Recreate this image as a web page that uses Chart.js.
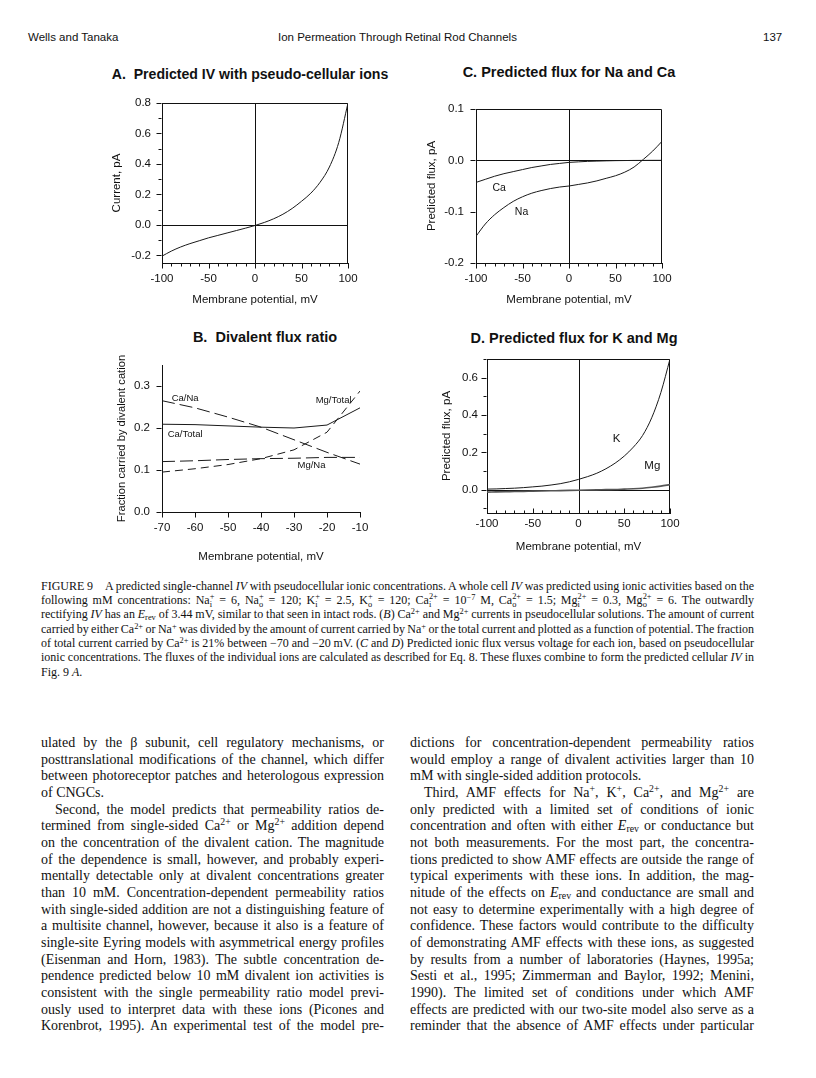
<!DOCTYPE html>
<html>
<head>
<meta charset="utf-8">
<script src="https://cdn.jsdelivr.net/npm/chart.js@4.4.1/dist/chart.umd.min.js"></script>
<style>
html, body { margin:0; padding:0; background:#fff; }
#page { position:relative; width:816px; height:1078px; overflow:hidden; color:#111; }
.hd { position:absolute; top:30px; font:11.5px/14px "Liberation Sans", Arial, sans-serif; white-space:nowrap; }
.ct { position:absolute; font:bold 14.5px/17px "Liberation Sans", Arial, sans-serif; white-space:nowrap; transform:translateX(-50%); }
canvas { position:absolute; }
.col { position:absolute; font-family:"Liberation Serif", "Times New Roman", serif; }
.col div { white-space:nowrap; }
#cap { left:41px; top:578.5px; width:713px; font-size:12px; line-height:14.4px; }
#cap div { height:14.4px; }
#colL { left:41px; top:735px; width:343px; font-size:14px; line-height:16.67px; }
#colR { left:410px; top:735px; width:344px; font-size:14px; line-height:16.67px; }
#colL div, #colR div { height:16.67px; }
.in { margin-left:14px; }
sup, sub { font-size:0.7em; line-height:0; }
sup { vertical-align:0.5em; }
sub { vertical-align:-0.25em; }
.ss { display:inline-block; vertical-align:-0.32em; font-size:0.7em; line-height:0.9em; }
.ss > span { display:block; }
</style>
</head>
<body>
<div id="page">
  <div class="hd" style="left:28px">Wells and Tanaka</div>
  <div class="hd" style="left:278px">Ion Permeation Through Retinal Rod Channels</div>
  <div class="hd" style="left:763px">137</div>

  <div class="ct" style="left:250px; top:66px; font-size:14.1px">A.&nbsp; Predicted IV with pseudo-cellular ions</div>
  <div class="ct" style="left:569px; top:64px">C. Predicted flux for Na and Ca</div>
  <div class="ct" style="left:265px; top:329px">B.&nbsp; Divalent flux ratio</div>
  <div class="ct" style="left:574px; top:330px">D. Predicted flux for K and Mg</div>

  <canvas id="graficaA" width="262" height="220" style="left:100px; top:95px"></canvas>
  <canvas id="graficaC" width="272" height="215" style="left:400px; top:100px"></canvas>
  <canvas id="graficaB" width="270" height="215" style="left:100px; top:355px"></canvas>
  <canvas id="graficaD" width="280" height="220" style="left:400px; top:350px"></canvas>

  <div class="col" id="cap">
    <div class="j"><span>FIGURE 9<span style="display:inline-block;width:12px"></span>A predicted single-channel <i>IV</i> with pseudocellular ionic concentrations. A whole cell <i>IV</i> was predicted using ionic activities based on the</span></div>
    <div class="j"><span>following mM concentrations: Na<span class="ss"><span>+</span><span>i</span></span> = 6, Na<span class="ss"><span>+</span><span>o</span></span> = 120; K<span class="ss"><span>+</span><span>i</span></span> = 2.5, K<span class="ss"><span>+</span><span>o</span></span> = 120; Ca<span class="ss"><span>2+</span><span>i</span></span> = 10<sup>−7</sup> M, Ca<span class="ss"><span>2+</span><span>o</span></span> = 1.5; Mg<span class="ss"><span>2+</span><span>i</span></span> = 0.3, Mg<span class="ss"><span>2+</span><span>o</span></span> = 6. The outwardly</span></div>
    <div class="j"><span>rectifying <i>IV</i> has an <i>E</i><sub>rev</sub> of 3.44 mV, similar to that seen in intact rods. (<i>B</i>) Ca<sup>2+</sup> and Mg<sup>2+</sup> currents in pseudocellular solutions. The amount of current</span></div>
    <div class="j"><span>carried by either Ca<sup>2+</sup> or Na<sup>+</sup> was divided by the amount of current carried by Na<sup>+</sup> or the total current and plotted as a function of potential. The fraction</span></div>
    <div class="j"><span>of total current carried by Ca<sup>2+</sup> is 21% between −70 and −20 mV. (<i>C</i> and <i>D</i>) Predicted ionic flux versus voltage for each ion, based on pseudocellular</span></div>
    <div class="j"><span>ionic concentrations. The fluxes of the individual ions are calculated as described for Eq. 8. These fluxes combine to form the predicted cellular <i>IV</i> in</span></div>
    <div><span>Fig. 9 <i>A</i>.</span></div>
  </div>

  <div class="col" id="colL">
    <div class="j"><span>ulated by the β subunit, cell regulatory mechanisms, or</span></div>
    <div class="j"><span>posttranslational modifications of the channel, which differ</span></div>
    <div class="j"><span>between photoreceptor patches and heterologous expression</span></div>
    <div><span>of CNGCs.</span></div>
    <div class="j"><span class="in">Second, the model predicts that permeability ratios de-</span></div>
    <div class="j"><span>termined from single-sided Ca<sup>2+</sup> or Mg<sup>2+</sup> addition depend</span></div>
    <div class="j"><span>on the concentration of the divalent cation. The magnitude</span></div>
    <div class="j"><span>of the dependence is small, however, and probably experi-</span></div>
    <div class="j"><span>mentally detectable only at divalent concentrations greater</span></div>
    <div class="j"><span>than 10 mM. Concentration-dependent permeability ratios</span></div>
    <div class="j"><span>with single-sided addition are not a distinguishing feature of</span></div>
    <div class="j"><span>a multisite channel, however, because it also is a feature of</span></div>
    <div class="j"><span>single-site Eyring models with asymmetrical energy profiles</span></div>
    <div class="j"><span>(Eisenman and Horn, 1983). The subtle concentration de-</span></div>
    <div class="j"><span>pendence predicted below 10 mM divalent ion activities is</span></div>
    <div class="j"><span>consistent with the single permeability ratio model previ-</span></div>
    <div class="j"><span>ously used to interpret data with these ions (Picones and</span></div>
    <div class="j"><span>Korenbrot, 1995). An experimental test of the model pre-</span></div>
  </div>

  <div class="col" id="colR">
    <div class="j"><span>dictions for concentration-dependent permeability ratios</span></div>
    <div class="j"><span>would employ a range of divalent activities larger than 10</span></div>
    <div><span>mM with single-sided addition protocols.</span></div>
    <div class="j"><span class="in">Third, AMF effects for Na<sup>+</sup>, K<sup>+</sup>, Ca<sup>2+</sup>, and Mg<sup>2+</sup> are</span></div>
    <div class="j"><span>only predicted with a limited set of conditions of ionic</span></div>
    <div class="j"><span>concentration and often with either <i>E</i><sub>rev</sub> or conductance but</span></div>
    <div class="j"><span>not both measurements. For the most part, the concentra-</span></div>
    <div class="j"><span>tions predicted to show AMF effects are outside the range of</span></div>
    <div class="j"><span>typical experiments with these ions. In addition, the mag-</span></div>
    <div class="j"><span>nitude of the effects on <i>E</i><sub>rev</sub> and conductance are small and</span></div>
    <div class="j"><span>not easy to determine experimentally with a high degree of</span></div>
    <div class="j"><span>confidence. These factors would contribute to the difficulty</span></div>
    <div class="j"><span>of demonstrating AMF effects with these ions, as suggested</span></div>
    <div class="j"><span>by results from a number of laboratories (Haynes, 1995a;</span></div>
    <div class="j"><span>Sesti et al., 1995; Zimmerman and Baylor, 1992; Menini,</span></div>
    <div class="j"><span>1990). The limited set of conditions under which AMF</span></div>
    <div class="j"><span>effects are predicted with our two-site model also serve as a</span></div>
    <div class="j"><span>reminder that the absence of AMF effects under particular</span></div>
  </div>
</div>

<script>
// Datos
const potencial = [-100, -90, -80, -70, -60, -50, -40, -30, -20, -10, 0, 10, 20, 30, 40, 50, 60, 70, 80, 90, 100];
const corrienteIV = [-0.205, -0.172, -0.145, -0.123, -0.104, -0.085, -0.069, -0.053, -0.037, -0.021, -0.004, 0.016, 0.04, 0.07, 0.108, 0.155, 0.208, 0.28, 0.38, 0.54, 0.8];
const flujoCa = [-0.043, -0.037, -0.031, -0.026, -0.022, -0.018, -0.014, -0.011, -0.008, -0.006, -0.004, -0.003, -0.002, -0.0015, -0.001, -0.0006, -0.0004, -0.0002, -0.0001, 0, 0];
const flujoNa = [-0.148, -0.124, -0.106, -0.092, -0.08, -0.071, -0.064, -0.059, -0.055, -0.052, -0.05, -0.047, -0.044, -0.04, -0.035, -0.03, -0.023, -0.013, 0.002, 0.018, 0.037];
const flujoK = [0.003, 0.004, 0.006, 0.008, 0.011, 0.015, 0.019, 0.025, 0.032, 0.042, 0.055, 0.07, 0.088, 0.112, 0.142, 0.18, 0.228, 0.29, 0.385, 0.52, 0.7];
const flujoMg = [-0.013, -0.012, -0.011, -0.01, -0.009, -0.008, -0.007, -0.006, -0.005, -0.004, -0.003, -0.002, -0.001, 0, 0.001, 0.003, 0.005, 0.008, 0.013, 0.019, 0.027];

const potencialRatio = [-70, -60, -50, -40, -30, -20, -10];
const ratioCaNa = [0.265, 0.248, 0.226, 0.202, 0.172, 0.142, 0.114];
const ratioCaTotal = [0.209, 0.208, 0.205, 0.202, 0.2, 0.207, 0.248];
const ratioMgTotal = [0.095, 0.103, 0.113, 0.127, 0.148, 0.19, 0.288];
const ratioMgNa = [0.12, 0.122, 0.125, 0.127, 0.128, 0.13, 0.13];

// Etiquetas de los ejes
const ticksPotencial = [-100, -50, 0, 50, 100];
const ticksIV = [-0.2, 0, 0.2, 0.4, 0.6, 0.8];
const ticksNaCa = [-0.2, -0.1, 0, 0.1];
const ticksRatioX = [-70, -60, -50, -40, -30, -20, -10];
const ticksRatioY = [0, 0.1, 0.2, 0.3];
const ticksKMg = [0, 0.2, 0.4, 0.6];

const fuente = '"Liberation Sans", Arial, sans-serif';
Chart.defaults.font.family = fuente;
Chart.defaults.color = '#111';

// Marco, lineas de cero, marcas menores y textos dentro de la grafica
function marcoPlugin(cfg) {
  return {
    id: 'marco',
    beforeDatasetsDraw(chart) {
      const ctx = chart.ctx;
      const a = chart.chartArea;
      const sx = chart.scales.x;
      const sy = chart.scales.y;
      ctx.save();
      ctx.strokeStyle = '#111';
      ctx.lineWidth = 1;
      ctx.beginPath();
      if (cfg.caja) {
        const t = Math.round(a.top) + 0.5;
        const r = Math.round(a.right) - 0.5;
        ctx.moveTo(a.left, t); ctx.lineTo(r, t); ctx.lineTo(r, a.bottom);
      }
      if (cfg.ceros) {
        const x0 = Math.round(sx.getPixelForValue(0)) + 0.5;
        const y0 = Math.round(sy.getPixelForValue(0)) + 0.5;
        ctx.moveTo(x0, a.top); ctx.lineTo(x0, a.bottom);
        ctx.moveTo(a.left, y0); ctx.lineTo(a.right, y0);
      }
      // marcas del eje x
      const yb = Math.round(a.bottom) + 0.5;
      const mx = cfg.marcasX;
      for (let k = Math.ceil(sx.min / mx.menor - 1e-9); k * mx.menor <= sx.max + 1e-9; k++) {
        const v = k * mx.menor;
        const mayor = Math.abs(v / mx.mayor - Math.round(v / mx.mayor)) < 1e-6;
        const largo = mayor ? 5 : 3;
        const p = Math.round(sx.getPixelForValue(v)) + 0.5;
        ctx.moveTo(p, yb); ctx.lineTo(p, yb + mx.dir * largo);
      }
      // marcas del eje y
      const xl = Math.round(a.left) - 0.5;
      const my = cfg.marcasY;
      for (let k = Math.ceil(sy.min / my.menor - 1e-9); k * my.menor <= sy.max + 1e-9; k++) {
        const v = k * my.menor;
        const mayor = Math.abs(v / my.mayor - Math.round(v / my.mayor)) < 1e-6;
        const largo = mayor ? 5 : 3;
        const p = Math.round(sy.getPixelForValue(v)) + 0.5;
        ctx.moveTo(xl, p); ctx.lineTo(xl - largo, p);
      }
      ctx.stroke();
      ctx.restore();
    },
    afterDatasetsDraw(chart) {
      const ctx = chart.ctx;
      const a = chart.chartArea;
      ctx.save();
      ctx.fillStyle = '#111';
      ctx.textAlign = 'center';
      ctx.textBaseline = 'middle';
      ctx.font = cfg.tamEtiq + 'px ' + fuente;
      (cfg.etiquetas || []).forEach(e => {
        ctx.fillText(e.texto, chart.scales.x.getPixelForValue(e.x), chart.scales.y.getPixelForValue(e.y));
      });
      if (cfg.tituloY) {
        ctx.font = '11.2px ' + fuente;
        ctx.translate(cfg.tituloY.x, (a.top + a.bottom) / 2);
        ctx.rotate(-Math.PI / 2);
        ctx.fillText(cfg.tituloY.texto, 0, 0);
      }
      ctx.restore();
    }
  };
}

function eje(o) {
  return {
    type: 'linear',
    min: o.min,
    max: o.max,
    // tamaño fijo del eje y sin el relleno extra que agrega Chart.js
    afterFit: (s) => {
      if (s.isHorizontal()) { s.height = o.alto; s.paddingLeft = 0; s.paddingRight = 0; }
      else { s.width = o.alto; s.paddingTop = 0; s.paddingBottom = 0; }
    },
    afterBuildTicks: (s) => { s.ticks = o.ticks.map(v => ({ value: v })); },
    grid: { display: true, drawOnChartArea: false, drawTicks: false },
    border: { display: true, color: '#111', width: 1 },
    ticks: { padding: o.pad, font: { size: 11.5 }, color: '#111', maxRotation: 0, autoSkip: false, callback: o.formato },
    title: { display: !!o.titulo, text: o.titulo, font: { size: 11.5 }, color: '#111', padding: o.padTitulo }
  };
}

function serie(xs, ys, extra) {
  return Object.assign({
    data: xs.map((x, i) => ({ x: x, y: ys[i] })),
    borderColor: '#1a1a1a',
    borderWidth: 1,
    pointRadius: 0,
    fill: false,
    cubicInterpolationMode: 'monotone'
  }, extra);
}

function opciones(padding, ejeX, ejeY) {
  return {
    responsive: false,
    animation: false,
    events: [],
    layout: { padding: padding, autoPadding: false },
    plugins: { legend: { display: false }, tooltip: { enabled: false } },
    scales: { x: ejeX, y: ejeY }
  };
}

const entero = v => String(v);
const decimal = v => v.toFixed(1);

// Grafica A
new Chart(document.getElementById('graficaA'), {
  type: 'line',
  data: { datasets: [serie(potencial, corrienteIV)] },
  options: opciones({ top: 8, right: 14, bottom: 0, left: 0 },
    eje({ min: -100, max: 100, ticks: ticksPotencial, alto: 52, pad: 9, formato: entero, titulo: 'Membrane potential, mV', padTitulo: { top: 0, bottom: 8 } }),
    eje({ min: -0.25, max: 0.8, ticks: ticksIV, alto: 62, pad: 11, formato: decimal, titulo: 'Current, pA', padTitulo: { top: 10, bottom: 0 } })),
  plugins: [marcoPlugin({ caja: true, ceros: true, marcasX: { mayor: 50, menor: 10, dir: 1 }, marcasY: { mayor: 0.2, menor: 0.1 } })]
});

// Grafica C
new Chart(document.getElementById('graficaC'), {
  type: 'line',
  data: { datasets: [serie(potencial, flujoCa), serie(potencial, flujoNa)] },
  options: opciones({ top: 9, right: 10, bottom: 0, left: 0 },
    eje({ min: -100, max: 100, ticks: ticksPotencial, alto: 52, pad: 9, formato: entero, titulo: 'Membrane potential, mV', padTitulo: { top: 0, bottom: 8 } }),
    eje({ min: -0.2, max: 0.1, ticks: ticksNaCa, alto: 76, pad: 12, formato: decimal, titulo: 'Predicted flux, pA', padTitulo: { top: 25, bottom: 0 } })),
  plugins: [marcoPlugin({
    caja: true, ceros: true, tamEtiq: 10.5,
    marcasX: { mayor: 50, menor: 10, dir: 1 }, marcasY: { mayor: 0.1, menor: 0.1 },
    etiquetas: [{ texto: 'Ca', x: -75, y: -0.055 }, { texto: 'Na', x: -51, y: -0.1 }]
  })]
});

// Grafica B
new Chart(document.getElementById('graficaB'), {
  type: 'line',
  data: {
    datasets: [
      serie(potencialRatio, ratioCaNa, { tension: 0, cubicInterpolationMode: 'default', borderDash: [13, 5] }),
      serie(potencialRatio, ratioCaTotal, { tension: 0, cubicInterpolationMode: 'default' }),
      serie(potencialRatio, ratioMgTotal, { tension: 0, cubicInterpolationMode: 'default', borderDash: [8, 5] }),
      serie(potencialRatio, ratioMgNa, { tension: 0, cubicInterpolationMode: 'default', borderDash: [13, 5] })
    ]
  },
  options: opciones({ top: 10, right: 10, bottom: 0, left: 0 },
    eje({ min: -70, max: -10, ticks: ticksRatioX, alto: 58, pad: 9, formato: entero, titulo: 'Membrane potential, mV', padTitulo: { top: 0, bottom: 6 } }),
    eje({ min: 0, max: 0.35, ticks: ticksRatioY, alto: 62, pad: 12, formato: decimal, titulo: '' })),
  plugins: [marcoPlugin({
    caja: false, ceros: false, tamEtiq: 9.5,
    marcasX: { mayor: 10, menor: 10, dir: 1 }, marcasY: { mayor: 0.1, menor: 0.1 },
    tituloY: { texto: 'Fraction carried by divalent cation', x: 22 },
    etiquetas: [
      { texto: 'Ca/Na', x: -63, y: 0.27 },
      { texto: 'Mg/Total', x: -18, y: 0.265 },
      { texto: 'Ca/Total', x: -63, y: 0.186 },
      { texto: 'Mg/Na', x: -24.7, y: 0.111 }
    ]
  })]
});

// Grafica D
new Chart(document.getElementById('graficaD'), {
  type: 'line',
  data: { datasets: [serie(potencial, flujoK), serie(potencial, flujoMg, { borderColor: '#555', borderWidth: 1.6 })] },
  options: opciones({ top: 9, right: 10, bottom: 0, left: 0 },
    eje({ min: -100, max: 100, ticks: ticksPotencial, alto: 57, pad: 4, formato: entero, titulo: 'Membrane potential, mV', padTitulo: { top: 0, bottom: 16 } }),
    eje({ min: -0.125, max: 0.7, ticks: ticksKMg, alto: 87, pad: 9, formato: decimal, titulo: 'Predicted flux, pA', padTitulo: { top: 40, bottom: 0 } })),
  plugins: [marcoPlugin({
    caja: true, ceros: true, tamEtiq: 11.5,
    marcasX: { mayor: 50, menor: 10, dir: -1 }, marcasY: { mayor: 0.2, menor: 0.1 },
    etiquetas: [{ texto: 'K', x: 41.6, y: 0.272 }, { texto: 'Mg', x: 80.7, y: 0.129 }]
  })]
});

// Justificado linea por linea
function justificar() {
  document.querySelectorAll('.j').forEach(linea => {
    const span = linea.firstElementChild;
    const n = (span.textContent.match(/ /g) || []).length;
    if (!n) return;
    span.style.wordSpacing = '0px';
    const margen = parseFloat(getComputedStyle(span).marginLeft) || 0;
    const hueco = linea.clientWidth - margen - span.getBoundingClientRect().width;
    span.style.wordSpacing = (hueco / n) + 'px';
  });
}
justificar();
if (document.fonts) document.fonts.ready.then(justificar);
</script>
</body>
</html>
